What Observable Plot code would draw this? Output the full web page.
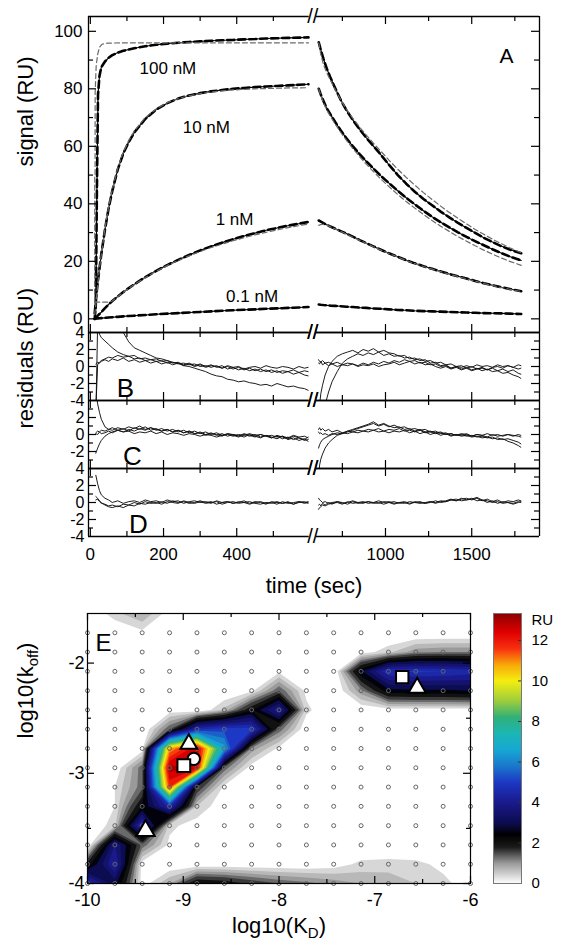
<!DOCTYPE html>
<html><head><meta charset="utf-8">
<script src="https://cdn.jsdelivr.net/npm/d3@7"></script>
<script src="https://cdn.jsdelivr.net/npm/@observablehq/plot@0.6"></script>
<style>
body{margin:0;background:#fff;}
#wrap{position:relative;width:562px;height:943px;background:#fff;overflow:hidden;}
#wrap svg{position:absolute;overflow:visible;}
</style></head><body><div id="wrap"></div>
<script>
const FONT = '"Liberation Sans", Arial, Helvetica, sans-serif';
// ---------- broken time axis ----------
const xDomain = [-5, 598, 600, 1893];
const xRange = [88, 308.7, 316, 539];
const segLeft = [-5, 598], segRight = [600, 1893];
const breakAt = [599];
const xMajor = [0, 200, 400, 1000, 1500];
const xMinor = [100, 300, 500, 750, 1250, 1750];

// ---------- panel A : sensorgrams ----------
const yDomA = [-4.75, 105.15];
const yMajorA = [0, 20, 40, 60, 80, 100];
const yMinorA = [10, 30, 50, 70, 90];
const tAssoc = [12, 15, 18, 21, 25, 30, 40, 50, 60, 75, 90, 105, 120, 150, 180, 210, 240, 270, 300, 330, 360, 390, 420, 450, 480, 510, 540, 570, 596];
const tDissoc = [613, 625, 640, 660, 680, 710, 740, 775, 810, 850, 890, 930, 970, 1020, 1070, 1120, 1170, 1220, 1270, 1320, 1370, 1420, 1470, 1520, 1570, 1620, 1670, 1720, 1787];
const assoc100 = [0, 5, 45, 78, 84.5, 87.5, 89.5, 90.8, 91.7, 92.6, 93.2, 93.7, 94.1, 94.8, 95.3, 95.7, 96.0, 96.3, 96.5, 96.7, 96.9, 97.0, 97.2, 97.3, 97.5, 97.6, 97.7, 97.8, 97.9];
const assoc10 = [2, 6, 10, 13.5, 17.5, 22.5, 31, 38.5, 44.5, 52, 57.5, 61.5, 64.8, 69.5, 72.8, 75, 76.6, 77.7, 78.5, 79.1, 79.6, 80, 80.3, 80.6, 80.8, 81.0, 81.2, 81.4, 81.6];
const assoc1 = [0, 0.4, 0.8, 1.2, 1.7, 2.3, 3.7, 5.0, 6.2, 7.8, 9.3, 10.7, 12.0, 14.5, 16.7, 18.7, 20.5, 22.2, 23.8, 25.2, 26.5, 27.7, 28.8, 29.8, 30.8, 31.6, 32.4, 33.1, 33.7];
const assoc01 = [0, 0.05, 0.1, 0.15, 0.2, 0.25, 0.35, 0.45, 0.55, 0.7, 0.85, 1.0, 1.1, 1.35, 1.6, 1.8, 2.0, 2.2, 2.4, 2.6, 2.8, 3.0, 3.15, 3.3, 3.5, 3.65, 3.8, 3.95, 4.1];
const tFit100 = [12, 12.1, 13, 13.2, 16, 20, 25, 32, 46, 100, 300, 596];
const fitAssoc100 = [5.8, 50, 50, 79, 88, 92, 94.4, 95.5, 95.9, 96.0, 96.0, 96.0];
const fitAssoc10 = [1.5, 5, 9, 13, 17.5, 22.5, 31.5, 39, 45, 52.5, 58, 62, 65.3, 70, 73, 75.2, 76.6, 77.6, 78.3, 78.9, 79.3, 79.6, 79.8, 80.0, 80.1, 80.2, 80.3, 80.3, 80.4];
const tFit1 = [12, 50, 60, 75, 90, 105, 120, 150, 180, 210, 240, 270, 300, 330, 360, 390, 420, 450, 480, 510, 540, 570, 596];
const fitAssoc1 = [5.8, 5.8, 6.2, 7.7, 9.2, 10.6, 11.9, 14.3, 16.5, 18.5, 20.3, 21.9, 23.4, 24.8, 26.0, 27.2, 28.2, 29.2, 30.1, 30.9, 31.7, 32.4, 33.0];
const diss100 = [96.2, 93.5, 90.5, 87.0, 84.0, 80.0, 76.2, 72.4, 69.2, 65.9, 62.9, 60.1, 57.3, 53.6, 50.1, 47.0, 44.2, 41.7, 39.5, 37.3, 35.3, 33.4, 31.6, 29.9, 28.2, 26.7, 25.3, 24.1, 22.8];
const diss10 = [80.0, 78.0, 75.8, 73.2, 71.2, 68.3, 65.6, 62.7, 60.1, 57.3, 54.7, 52.3, 49.9, 47.2, 44.6, 42.1, 39.8, 37.6, 35.5, 33.6, 31.8, 30.1, 28.5, 27.0, 25.6, 24.2, 22.9, 21.7, 20.3];
const diss1 = [34.2, 33.8, 33.3, 32.7, 32.1, 31.3, 30.5, 29.6, 28.6, 27.4, 26.3, 25.2, 24.1, 22.8, 21.6, 20.4, 19.3, 18.3, 17.4, 16.5, 15.6, 14.8, 14.0, 13.2, 12.4, 11.7, 11.0, 10.4, 9.6];
const diss01 = [5.0, 4.9, 4.8, 4.7, 4.6, 4.5, 4.4, 4.2, 4.1, 3.9, 3.8, 3.6, 3.5, 3.3, 3.1, 3.0, 2.8, 2.7, 2.6, 2.5, 2.4, 2.3, 2.2, 2.1, 2.0, 1.95, 1.9, 1.8, 1.7];
const fitDiss100 = [96.0, 92.0, 88.5, 85.5, 83.0, 79.5, 76.2, 72.8, 69.8, 66.7, 63.8, 61.1, 58.5, 55.2, 52.1, 49.2, 46.5, 43.9, 41.5, 39.2, 37.0, 35.0, 33.0, 31.1, 29.4, 27.7, 26.2, 24.7, 23.0];
const fitDiss10 = [80.0, 77.6, 75.2, 72.6, 70.5, 67.6, 64.9, 62.0, 59.3, 56.4, 53.7, 51.2, 48.8, 46.0, 43.3, 40.8, 38.5, 36.3, 34.2, 32.2, 30.4, 28.6, 27.0, 25.4, 23.9, 22.5, 21.2, 20.0, 18.6];
const fitDiss1 = [32.5, 32.8, 32.9, 32.6, 32.0, 31.2, 30.4, 29.4, 28.4, 27.3, 26.2, 25.1, 24.0, 22.7, 21.5, 20.3, 19.2, 18.2, 17.3, 16.4, 15.5, 14.7, 13.9, 13.1, 12.3, 11.6, 10.9, 10.3, 9.5];
const concNames = ["100 nM", "10 nM", "1 nM", "0.1 nM"];
const concLabelT = [212, 317, 394, 442];
const concLabelV = [87.2, 66.4, 34.4, 7.9];

// ---------- panels B, C, D : residuals ----------
const resDomain = [-4, 4];
const tResL = [15, 20, 25, 30, 40, 50, 60, 75, 90, 105, 120, 135, 150, 165, 180, 195, 210, 225, 240, 255, 270, 285, 300, 315, 330, 345, 360, 375, 390, 405, 420, 435, 450, 465, 480, 495, 510, 525, 540, 555, 570, 585, 595];
const tResR = [612, 618, 625, 635, 650, 670, 690, 720, 750, 780, 810, 840, 870, 900, 930, 960, 990, 1020, 1050, 1080, 1110, 1140, 1170, 1200, 1230, 1260, 1290, 1320, 1350, 1380, 1410, 1440, 1470, 1500, 1530, 1560, 1590, 1620, 1650, 1680, 1710, 1740, 1770, 1785];
const resB_L1 = [-6, 5, 3.8, 3.4, 3.0, 2.6, 2.2, 1.7, 1.4, 1.2, 1.3, 0.9, 1.0, 0.8, 0.9, 0.6, 0.7, 0.4, 0.5, 0.2, 0.4, 0.1, 0.3, 0.0, 0.2, -0.1, 0.1, -0.3, -0.1, -0.4, -0.2, -0.5, -0.3, -0.6, -0.4, -0.7, -0.5, -0.8, -0.6, -0.9, -0.7, -1.0, -1.1];
const resB_L2 = [9, 9, 8.5, 8, 7, 6.2, 5.5, 4.7, 4.0, 2.9, 2.2, 1.9, 1.6, 1.3, 1.0, 0.9, 0.7, 0.5, 0.4, 0.1, 0.0, -0.2, -0.4, -0.6, -0.9, -1.1, -1.2, -1.5, -1.6, -1.8, -1.7, -1.9, -2.0, -2.2, -2.1, -2.3, -2.0, -2.2, -2.4, -2.3, -2.5, -2.6, -2.8];
const resB_L3 = [-5, 0.2, 0.5, 0.7, 0.9, 1.1, 1.0, 1.3, 1.1, 1.2, 0.9, 1.0, 0.7, 0.8, 0.6, 0.7, 0.4, 0.5, 0.3, 0.4, 0.2, 0.3, 0.0, 0.1, -0.1, 0.1, -0.2, 0.0, -0.3, -0.1, -0.4, -0.2, -0.5, -0.3, -0.6, -0.4, -0.7, -0.5, -0.6, -0.4, -0.7, -0.5, -0.6];
const resB_L4 = [0.3, 0.5, 0.4, 0.6, 0.8, 0.6, 0.9, 0.7, 1.0, 0.6, 0.8, 0.5, 0.7, 0.4, 0.6, 0.3, 0.5, 0.2, 0.4, 0.1, 0.3, 0.0, 0.2, -0.1, 0.1, 0.0, -0.2, 0.1, -0.1, 0.0, -0.3, -0.1, 0.0, -0.2, 0.1, -0.1, -0.2, 0.0, -0.1, -0.3, 0.0, -0.2, -0.1];
const resB_R1 = [-8, -4.5, -3.2, -2.2, -1.0, 0.0, 0.6, 1.2, 1.5, 1.7, 1.9, 1.6, 2.0, 1.8, 2.1, 1.7, 1.9, 1.6, 1.5, 1.2, 1.3, 0.9, 1.0, 0.7, 0.8, 0.4, 0.5, 0.1, 0.2, -0.2, 0.0, -0.3, -0.1, -0.4, -0.2, -0.5, -0.3, -0.6, -0.5, -0.8, -0.7, -1.0, -1.2, -1.4];
const resB_R2 = [-9, -8, -7, -6, -4.5, -3.0, -1.8, -0.6, 0.4, 0.9, 1.2, 1.5, 1.3, 1.6, 1.4, 1.7, 1.3, 1.5, 1.2, 1.3, 1.0, 1.1, 0.8, 0.9, 0.6, 0.7, 0.4, 0.5, 0.2, 0.3, 0.0, 0.1, -0.2, 0.0, -0.3, -0.1, -0.4, -0.2, -0.5, -0.3, -0.6, -0.4, -0.8, -0.9];
const resB_R3 = [0.8, 0.6, 0.5, 0.7, 0.4, 0.5, 0.3, 0.5, 0.2, 0.4, 0.3, 0.1, 0.4, 0.2, 0.5, 0.3, 0.6, 0.4, 0.7, 0.5, 0.8, 0.6, 0.7, 0.4, 0.5, 0.2, 0.3, 0.0, 0.1, -0.2, 0.0, -0.1, 0.1, -0.1, 0.2, 0.0, 0.1, -0.1, 0.2, 0.0, 0.1, -0.1, 0.2, 0.1];
const resB_R4 = [0.4, 0.3, 0.6, 0.2, 0.4, 0.1, 0.3, 0.0, 0.2, 0.1, 0.3, 0.0, 0.2, 0.1, 0.3, 0.0, 0.2, 0.3, 0.5, 0.2, 0.4, 0.6, 0.3, 0.5, 0.2, 0.3, 0.0, -0.2, 0.0, -0.3, -0.1, -0.4, -0.2, -0.5, -0.3, -0.2, -0.4, -0.1, 0.0, -0.2, 0.1, -0.1, -0.3, -0.2];
const resC_L1 = [5, 3.6, 2.6, 1.8, 0.9, 0.6, 0.8, 0.5, 0.7, 0.4, 0.8, 0.6, 0.9, 0.5, 0.7, 0.4, 0.6, 0.3, 0.5, 0.2, 0.4, 0.1, 0.3, 0.0, 0.2, -0.1, 0.1, -0.2, 0.0, -0.1, -0.3, 0.0, -0.2, -0.4, -0.1, -0.3, -0.5, -0.2, -0.6, -0.4, -0.7, -0.5, -0.8];
const resC_L2 = [-2.2, -1.6, -1.1, -0.7, -0.2, 0.1, 0.3, 0.5, 0.3, 0.6, 0.4, 0.7, 0.5, 0.8, 0.6, 0.4, 0.6, 0.3, 0.5, 0.2, 0.4, 0.1, 0.2, -0.1, 0.1, 0.0, -0.2, 0.1, -0.1, -0.3, 0.0, -0.2, 0.0, -0.3, -0.1, -0.4, -0.2, -0.5, -0.3, -0.6, -0.4, -0.7, -0.6];
const resC_L3 = [0.2, 0.4, 0.3, 0.5, 0.4, 0.6, 0.5, 0.8, 0.6, 0.9, 0.7, 1.0, 0.6, 0.8, 0.5, 0.7, 0.4, 0.6, 0.3, 0.5, 0.2, 0.4, 0.1, 0.3, 0.0, 0.2, -0.1, 0.1, 0.0, -0.2, 0.1, -0.1, -0.3, 0.0, -0.2, -0.4, -0.1, -0.3, -0.5, -0.2, -0.4, -0.6, -0.3];
const resC_L4 = [0.1, 0.0, 0.3, 0.1, 0.2, 0.4, 0.2, 0.5, 0.3, 0.4, 0.1, 0.3, 0.2, 0.4, 0.1, 0.3, 0.0, 0.2, 0.1, -0.1, 0.1, 0.0, -0.2, 0.0, -0.1, -0.3, -0.1, 0.0, -0.2, 0.0, -0.1, 0.1, -0.1, 0.0, -0.2, -0.1, -0.3, -0.2, -0.4, -0.1, -0.3, -0.2, -0.4];
const resC_R1 = [-5, -3.6, -2.9, -2.3, -1.6, -1.0, -0.6, -0.1, 0.1, 0.3, 0.5, 0.7, 0.9, 1.1, 1.3, 1.0, 1.2, 0.9, 1.1, 0.8, 0.9, 0.6, 0.7, 0.5, 0.6, 0.3, 0.4, 0.1, 0.2, -0.1, 0.0, -0.2, -0.1, -0.3, -0.2, -0.4, -0.3, -0.5, -0.4, -0.6, -0.5, -0.7, -0.9, -1.1];
const resC_R2 = [-1.6, -1.2, -0.9, -0.6, -0.4, -0.2, 0.0, 0.2, 0.1, 0.4, 0.6, 0.8, 1.0, 1.2, 1.5, 1.1, 1.3, 1.0, 0.8, 0.9, 0.6, 0.7, 0.4, 0.6, 0.3, 0.4, 0.2, 0.3, 0.0, 0.1, -0.1, 0.0, -0.2, -0.1, -0.3, -0.2, -0.4, -0.3, -0.6, -0.5, -0.8, -1.0, -1.3, -1.5];
const resC_R3 = [0.6, 0.8, 0.5, 0.7, 0.4, 0.6, 0.3, 0.5, 0.2, 0.4, 0.3, 0.5, 0.4, 0.6, 0.5, 0.7, 0.4, 0.6, 0.5, 0.7, 0.4, 0.5, 0.3, 0.5, 0.2, 0.3, 0.1, 0.2, 0.0, 0.1, -0.1, 0.1, 0.0, -0.2, 0.0, -0.1, 0.1, -0.1, 0.0, -0.2, 0.0, -0.1, -0.2, -0.3];
const resC_R4 = [0.3, 0.1, 0.2, 0.0, 0.1, -0.1, 0.1, 0.0, 0.2, 0.1, 0.3, 0.2, 0.4, 0.3, 0.5, 0.3, 0.4, 0.2, 0.4, 0.3, 0.5, 0.2, 0.4, 0.1, 0.3, 0.0, 0.2, -0.1, 0.1, -0.2, 0.0, -0.1, 0.1, -0.2, 0.0, -0.1, -0.3, 0.0, -0.2, -0.1, 0.0, -0.2, 0.0, -0.1];
const resD_L1 = [3.2, 2.2, 1.4, 0.9, 0.5, 0.3, 0.0, 0.2, -0.1, 0.1, 0.2, 0.0, 0.3, 0.1, 0.2, 0.0, 0.3, 0.1, 0.2, -0.1, 0.1, 0.2, 0.0, 0.1, -0.1, 0.2, 0.0, 0.1, -0.1, 0.0, 0.2, -0.1, 0.1, 0.0, -0.2, 0.1, 0.0, -0.1, 0.1, -0.2, 0.0, 0.1, -0.1];
const resD_L2 = [0.7, 0.5, 0.2, 0.0, -0.3, -0.5, -0.6, -0.4, -0.6, -0.3, -0.4, -0.1, -0.2, 0.0, -0.1, 0.1, -0.1, 0.2, 0.0, 0.1, -0.1, 0.0, 0.2, 0.0, 0.1, -0.2, 0.0, 0.1, -0.1, 0.1, 0.0, -0.2, 0.0, 0.1, -0.1, 0.0, -0.2, 0.1, -0.1, 0.0, 0.1, -0.1, 0.0];
const resD_L3 = [0.3, 0.4, 0.1, -0.1, -0.2, -0.4, -0.3, -0.5, -0.2, -0.3, 0.0, -0.2, 0.1, -0.1, 0.0, -0.2, 0.1, 0.0, -0.1, 0.2, 0.0, -0.1, 0.1, -0.1, 0.0, 0.1, -0.2, 0.0, 0.1, -0.1, 0.0, 0.1, -0.1, -0.2, 0.0, -0.1, 0.1, -0.1, 0.0, -0.2, 0.1, 0.0, 0.1];
const resD_R1 = [0.5, 0.3, 0.2, 0.0, 0.1, -0.1, 0.0, 0.1, -0.1, 0.0, 0.2, 0.0, 0.1, -0.1, 0.0, 0.2, 0.0, 0.1, -0.1, 0.0, 0.1, -0.1, 0.0, 0.1, -0.1, 0.0, 0.2, 0.0, 0.1, 0.3, 0.2, 0.4, 0.5, 0.3, 0.5, 0.2, 0.4, 0.1, 0.3, 0.0, 0.2, 0.1, 0.3, 0.2];
const resD_R2 = [-0.3, -0.2, -0.4, -0.1, -0.3, 0.0, -0.2, 0.1, 0.0, -0.2, 0.1, -0.1, 0.0, 0.1, -0.1, 0.0, -0.2, 0.0, 0.1, -0.1, 0.0, -0.2, 0.1, 0.0, -0.1, 0.1, 0.0, 0.2, 0.1, 0.3, 0.4, 0.2, 0.3, 0.5, 0.2, 0.3, 0.0, 0.2, -0.1, 0.1, 0.0, -0.1, 0.1, 0.0];
const resD_R3 = [-0.8, -0.6, -0.5, -0.3, -0.4, -0.2, -0.1, 0.0, -0.2, 0.1, -0.1, 0.0, -0.1, 0.1, 0.0, -0.1, 0.1, 0.0, -0.2, 0.0, -0.1, 0.1, 0.0, -0.1, 0.0, 0.1, -0.1, 0.1, 0.2, 0.4, 0.2, 0.5, 0.3, 0.4, 0.6, 0.3, 0.2, 0.0, 0.1, -0.1, 0.0, -0.2, 0.0, 0.1];
const resYMajor = [-2, 0, 2], resYMinor = [-3, -1, 1, 3];
const resLabelsB = [4, 2, 0, -2, -4], resLabelsC = [2, 0, -2], resLabelsD = [4, 2, 0, -2, -4];
const panelLetters = ["B", "C", "D"];
const panelLetterT = [96, 115, 131];

// ---------- panel E : error surface ----------
const kdGrid = [-10, -9.714, -9.429, -9.143, -8.857, -8.571, -8.286, -8, -7.714, -7.429, -7.143, -6.857, -6.571, -6.286, -6];
const koffGrid = [-4, -3.825, -3.65, -3.475, -3.3, -3.125, -2.95, -2.775, -2.6, -2.425, -2.25, -2.075, -1.9, -1.725, -1.55];
// RU values on the lattice, top row (log koff = -1.55) first
const heatRows = [
  [0, 0.6, 1.0, 0.2, 0, 0, 0, 0, 0, 0, 0, 0, 0, 0, 0],
  [0, 0, 0.3, 0, 0, 0, 0, 0, 0, 0, 0, 0, 0, 0, 0],
  [0, 0, 0, 0, 0, 0, 0, 0, 0, 0, 0.2, 0.6, 1.2, 1.3, 1.3],
  [0, 0, 0, 0, 0, 0, 0, 0.3, 0, 0, 2.9, 5.0, 5.1, 5.0, 4.8],
  [0, 0, 0, 0, 0, 0, 0.3, 1.6, 0.3, 0, 1.2, 2.8, 2.9, 2.9, 3.0],
  [0, 0, 0, 0.2, 0, 0.8, 2.4, 4.4, 0.5, 0, 0.1, 0.2, 0.2, 0.2, 0.2],
  [0, 0, 0, 1.6, 4.8, 5.3, 5.2, 1.5, 0.1, 0, 0, 0, 0, 0, 0],
  [0, 0, 0.2, 11, 13, 6.8, 1.2, 0.3, 0, 0, 0, 0, 0, 0, 0],
  [0, 0.1, 1.5, 13.3, 12.8, 1.5, 0.2, 0, 0, 0, 0, 0, 0, 0, 0],
  [0, 0.4, 1.5, 12, 2.0, 0.3, 0, 0, 0, 0, 0, 0, 0, 0, 0],
  [0, 0.4, 2.5, 4.8, 0.7, 0.1, 0, 0, 0, 0, 0, 0, 0, 0, 0],
  [0, 0.6, 5.0, 0.5, 0.2, 0, 0, 0, 0, 0, 0, 0, 0, 0, 0],
  [0, 4.0, 1.5, 0.3, 0, 0, 0, 0, 0, 0, 0, 0, 0, 0, 0],
  [2.2, 4.6, 0.2, 0.1, 0.1, 0.1, 0.1, 0.1, 0.1, 0.2, 0.5, 0.55, 0.5, 0.3, 0],
  [5.0, 3.2, 0.2, 1.0, 2.5, 2.3, 1.9, 1.6, 1.4, 1.2, 1.0, 0.9, 0.7, 0.5, 0.2]
];
const thresholds = [0.4, 0.7, 1, 1.3, 1.6, 2, 2.5, 3, 3.5, 4, 4.5, 5, 5.5, 6, 6.5, 7, 7.5, 8, 8.5, 9, 9.5, 10, 10.5, 11, 11.5, 12, 12.5, 13];
const colorDomain = [0, 1, 1.8, 2.4, 3.0, 4.0, 5.0, 5.8, 6.6, 7.4, 8.2, 9.0, 10.0, 10.8, 11.6, 12.4, 13.33];
const colorRange = ["#ffffff", "#9a9a9a", "#1a1a1a", "#000000", "#0c0c50", "#1a1a8c", "#1c38c4", "#1a78cc", "#16a8d4", "#1cb6b4", "#30b07a", "#9ccc3c", "#f4ee10", "#f8a808", "#f83010", "#e00000", "#8c0000"];
const markerKD = [-8.942, -8.89, -8.994, -9.394, -6.713, -6.557];
const markerKoff = [-2.733, -2.869, -2.93, -3.521, -2.127, -2.224];
const markerSym = ["triangle", "circle", "square", "triangle", "square", "triangle"];
const markerR = [6.2, 6.2, 7.2, 6.8, 7.0, 6.4];
const eXMajor = [-10, -9, -8, -7, -6], eXMinor = [-9.5, -8.5, -7.5, -6.5];
const eYMajor = [-4, -3, -2], eYMinor = [-3.5, -2.5];
const cbTicks = [0, 2, 4, 6, 8, 10, 12];

// ---------- helpers ----------
const STYLE = {background: "transparent", overflow: "visible", fontFamily: FONT, color: "black"};
const wrap = document.getElementById("wrap");
function place(svg, left, top) { svg.style.left = left + "px"; svg.style.top = top + "px"; wrap.appendChild(svg); }
function frameRules(yDom) {
  const s = {stroke: "black", strokeWidth: 1.3};
  return [
    Plot.ruleY(yDom, {...s, x1: segLeft[0], x2: segLeft[1]}),
    Plot.ruleY(yDom, {...s, x1: segRight[0], x2: segRight[1]}),
    Plot.ruleX([segLeft[0], segRight[1]], {...s, y1: yDom[0], y2: yDom[1]})
  ];
}
function tickRules(H, W, xMaj, xMin, yMaj, yMin, LM, Lm) {
  const s = {stroke: "black", strokeWidth: 1.2};
  return [
    Plot.ruleX(xMaj, {...s, insetTop: H - LM}), Plot.ruleX(xMin, {...s, insetTop: H - Lm}),
    Plot.ruleX(xMaj, {...s, insetBottom: H - LM}), Plot.ruleX(xMin, {...s, insetBottom: H - Lm}),
    Plot.ruleY(yMaj, {...s, insetRight: W - LM}), Plot.ruleY(yMin, {...s, insetRight: W - Lm}),
    Plot.ruleY(yMaj, {...s, insetLeft: W - LM}), Plot.ruleY(yMin, {...s, insetLeft: W - Lm})
  ];
}
function breakMarks() {
  const o = {x: d => d, text: () => "//", fontSize: 20, lineAnchor: "middle", textAnchor: "middle", fill: "black"};
  return [Plot.text(breakAt, {...o, frameAnchor: "top"}), Plot.text(breakAt, {...o, frameAnchor: "bottom"})];
}
function dataLine(t, v) {
  return [
    Plot.line(v, {x: t, y: v, stroke: "black", strokeWidth: 1.1, clip: true}),
    Plot.line(v, {x: t, y: v, stroke: "black", strokeWidth: 2.6, strokeDasharray: "7,4", clip: true})
  ];
}
function fitLine(t, v) {
  return Plot.line(v, {x: t, y: v, stroke: "#6a6a6a", strokeWidth: 1.2, strokeDasharray: "5,3", clip: true});
}
function resLine(t, v) {
  return Plot.line(v, {x: t, y: v, stroke: "#111", strokeWidth: 0.95, clip: true});
}

// ---------- Panel A ----------
const plotA = Plot.plot({
  width: 562, height: 332, marginTop: 16, marginBottom: 0, marginLeft: 88, marginRight: 23,
  x: {type: "linear", domain: xDomain, range: xRange, axis: null},
  y: {domain: yDomA, axis: null},
  style: STYLE,
  marks: [
    ...dataLine(tAssoc, assoc100), ...dataLine(tAssoc, assoc10), ...dataLine(tAssoc, assoc1), ...dataLine(tAssoc, assoc01),
    ...dataLine(tDissoc, diss100), ...dataLine(tDissoc, diss10), ...dataLine(tDissoc, diss1), ...dataLine(tDissoc, diss01),
    fitLine(tFit100, fitAssoc100), fitLine(tAssoc, fitAssoc10), fitLine(tFit1, fitAssoc1),
    fitLine(tDissoc, fitDiss100), fitLine(tDissoc, fitDiss10), fitLine(tDissoc, fitDiss1),
    ...frameRules(yDomA),
    ...tickRules(316, 451, xMajor, xMinor, yMajorA, yMinorA, 8, 5),
    ...breakMarks(),
    Plot.text(yMajorA, {y: d => d, frameAnchor: "left", dx: -6, textAnchor: "end", lineAnchor: "middle", fontSize: 17, text: d => String(d)}),
    Plot.text(concNames, {x: concLabelT, y: concLabelV, text: d => d, fontSize: 17, lineAnchor: "middle"}),
    Plot.text(["A"], {x: [1702], y: [91.4], text: d => d, fontSize: 21, lineAnchor: "middle"}),
    Plot.text(["signal (RU)"], {frameAnchor: "left", dx: -63, dy: -8, rotate: -90, fontSize: 22, text: d => d, lineAnchor: "middle"})
  ]
});
place(plotA, 0, 0);

// ---------- residual panels ----------
function residPanel(height, marginBottom, left, right, labels, letter, letterT, extra) {
  return Plot.plot({
    width: 562, height, marginTop: 0, marginBottom, marginLeft: 88, marginRight: 23,
    x: {type: "linear", domain: xDomain, range: xRange, axis: null},
    y: {domain: resDomain, axis: null},
    style: STYLE,
    marks: [
      ...left.map(v => resLine(tResL, v)),
      ...right.map(v => resLine(tResR, v)),
      ...frameRules(resDomain),
      ...tickRules(68, 451, xMajor, xMinor, resYMajor, resYMinor, 8, 5),
      ...breakMarks(),
      Plot.text(labels, {y: d => d, frameAnchor: "left", dx: -4, textAnchor: "end", lineAnchor: "middle", fontSize: 16, text: d => String(d)}),
      Plot.text([letter], {x: [letterT], y: [-3.6], text: d => d, fontSize: 26, lineAnchor: "bottom"}),
      ...extra
    ]
  });
}
place(residPanel(68, 0, [resB_L1, resB_L2, resB_L3, resB_L4], [resB_R1, resB_R2, resB_R3, resB_R4], resLabelsB, panelLetters[0], panelLetterT[0], []), 0, 332);
place(residPanel(68, 0, [resC_L1, resC_L2, resC_L3, resC_L4], [resC_R1, resC_R2, resC_R3, resC_R4], resLabelsC, panelLetters[1], panelLetterT[1],
  [Plot.text(["residuals (RU)"], {frameAnchor: "left", dx: -63, dy: -6, rotate: -90, fontSize: 22, text: d => d, lineAnchor: "middle"})]), 0, 400);
place(residPanel(132, 64, [resD_L1, resD_L2, resD_L3], [resD_R1, resD_R2, resD_R3], resLabelsD, panelLetters[2], panelLetterT[2],
  [Plot.text(xMajor, {x: d => d, frameAnchor: "bottom", dy: 18, lineAnchor: "middle", fontSize: 17, text: d => String(d)}),
   Plot.text(["time (sec)"], {frameAnchor: "bottom", dy: 49, lineAnchor: "middle", fontSize: 22, text: d => d})]), 0, 468);

// ---------- Panel E ----------
const nK = kdGrid.length, nO = koffGrid.length;
const dK = (kdGrid[nK - 1] - kdGrid[0]) / (nK - 1);
const dO = (koffGrid[nO - 1] - koffGrid[0]) / (nO - 1);
const gridPts = d3.cross(kdGrid, koffGrid.slice(0, nO - 1)).map(([kd, koff]) => ({kd, koff}));
const markers = markerKD.map((kd, i) => ({kd, koff: markerKoff[i], sym: markerSym[i], r: markerR[i]}));
const colorOpts = {type: "linear", domain: colorDomain, range: colorRange, interpolate: "rgb"};
const plotE = Plot.plot({
  width: 480, height: 343, marginTop: 13, marginBottom: 60, marginLeft: 87, marginRight: 10,
  x: {domain: [kdGrid[0], kdGrid[nK - 1]], axis: null},
  y: {domain: [koffGrid[0], koffGrid[nO - 1]], axis: null},
  color: colorOpts,
  style: STYLE,
  marks: [
    Plot.contour(heatRows.flat(), {
      width: nK, height: nO,
      x1: kdGrid[0] - dK / 2, x2: kdGrid[nK - 1] + dK / 2,
      y1: koffGrid[nO - 1] + dO / 2, y2: koffGrid[0] - dO / 2,
      fill: Plot.identity, thresholds, clip: true
    }),
    Plot.dot(gridPts, {x: "kd", y: "koff", r: 2, stroke: "#666", strokeWidth: 1, fill: "none"}),
    Plot.frame({stroke: "black", strokeWidth: 1.2}),
    ...tickRules(270, 383, eXMajor, eXMinor, eYMajor, eYMinor, 7, 4),
    ...markers.map(m => Plot.dot([m], {x: "kd", y: "koff", r: m.r, symbol: m.sym, fill: "white", stroke: "black", strokeWidth: 2})),
    Plot.text(["E"], {frameAnchor: "top-left", dx: 8, dy: 20, textAnchor: "start", lineAnchor: "top", fontSize: 24, text: d => d}),
    Plot.text(eXMajor, {x: d => d, frameAnchor: "bottom", dy: 17, lineAnchor: "middle", fontSize: 18, text: d => String(d)}),
    Plot.text(eYMajor, {y: d => d, frameAnchor: "left", dx: -3, textAnchor: "end", lineAnchor: "middle", fontSize: 18, text: d => String(d)}),
    Plot.text(["log10(KD)"], {frameAnchor: "bottom", dy: 42, lineAnchor: "middle", fontSize: 22, text: d => d}),
    Plot.text(["log10(koff)"], {frameAnchor: "left", dx: -62, dy: -10, rotate: -90, fontSize: 22, lineAnchor: "middle", text: d => d})
  ]
});
plotE.querySelectorAll("text").forEach(t => {
  if (t.textContent === "log10(KD)") t.innerHTML = 'log10(K<tspan dy="5" font-size="15">D</tspan><tspan dy="-5">)</tspan>';
  if (t.textContent === "log10(koff)") t.innerHTML = 'log10(k<tspan dy="5" font-size="15">off</tspan><tspan dy="-5">)</tspan>';
});
place(plotE, 0, 600);

// ---------- colour bar ----------
const plotCB = Plot.plot({
  width: 82, height: 343, marginTop: 13, marginBottom: 60, marginLeft: 13, marginRight: 41,
  x: {domain: [0, 1], axis: null},
  y: {domain: [0, colorDomain[colorDomain.length - 1]], axis: null},
  color: colorOpts,
  style: STYLE,
  marks: [
    Plot.raster({x1: 0, x2: 1, y1: 0, y2: colorDomain[colorDomain.length - 1], fill: (x, y) => y}),
    Plot.frame({stroke: "#777", strokeWidth: 1}),
    Plot.ruleY(cbTicks.slice(1), {insetLeft: 25, stroke: "#333", strokeWidth: 1}),
    Plot.text(cbTicks, {y: d => d, frameAnchor: "right", dx: 10, textAnchor: "start", lineAnchor: "middle", fontSize: 15, text: d => String(d)}),
    Plot.text(["RU"], {frameAnchor: "top-right", dx: 10, dy: 7, textAnchor: "start", lineAnchor: "middle", fontSize: 15, text: d => d})
  ]
});
place(plotCB, 480, 600);
</script></body></html>
